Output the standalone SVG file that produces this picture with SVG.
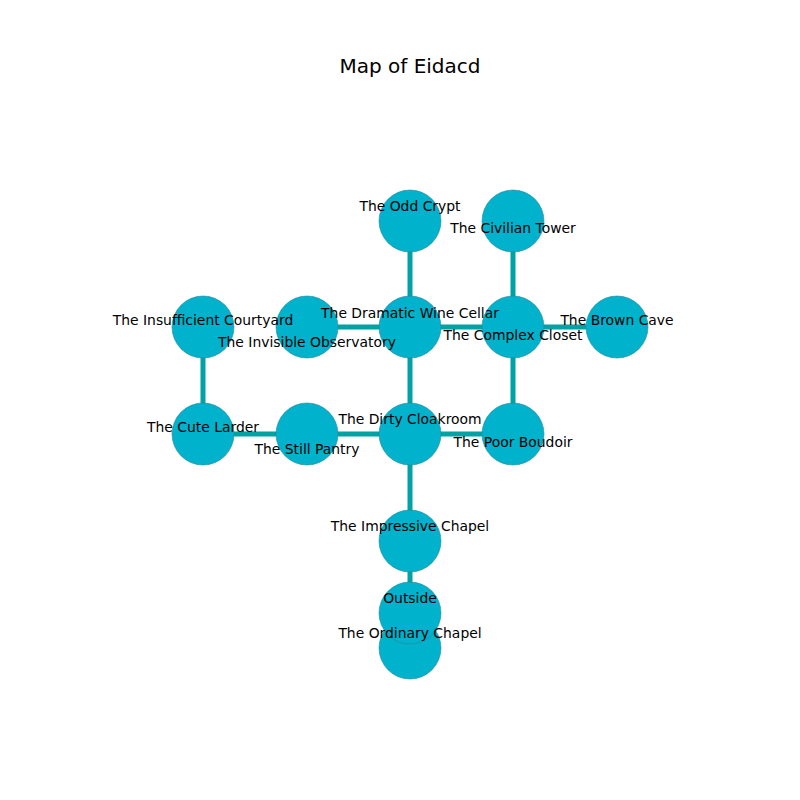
<svg xmlns="http://www.w3.org/2000/svg" width="800" height="800" viewBox="0 0 800 800">
<style>
.n{fill:#00b2cc;stroke:#2a8796;stroke-width:0.6}
.e{stroke:#00a3a3;stroke-width:5;fill:none}
.t{font-family:"DejaVu Sans",sans-serif;font-size:13.9px;fill:#000;text-anchor:middle}
.title{font-family:"DejaVu Sans",sans-serif;font-size:20px;fill:#000;text-anchor:middle}
</style>
<rect width="800" height="800" fill="#fff"/>
<text class="title" x="410" y="73">Map of Eidacd</text>
<g id="connectors">
<line class="e" x1="410" y1="221" x2="410" y2="327"/>
<line class="e" x1="513" y1="221" x2="513" y2="327"/>
<line class="e" x1="203" y1="327" x2="203" y2="434"/>
<line class="e" x1="307" y1="327" x2="410" y2="327"/>
<line class="e" x1="410" y1="327" x2="513" y2="327"/>
<line class="e" x1="513" y1="327" x2="617" y2="327"/>
<line class="e" x1="410" y1="327" x2="410" y2="434"/>
<line class="e" x1="513" y1="327" x2="513" y2="434"/>
<line class="e" x1="203" y1="434" x2="307" y2="434"/>
<line class="e" x1="307" y1="434" x2="410" y2="434"/>
<line class="e" x1="410" y1="434" x2="513" y2="434"/>
<line class="e" x1="410" y1="434" x2="410" y2="541"/>
<line class="e" x1="410" y1="541" x2="410" y2="613"/>
</g>
<g id="odd-crypt"><circle class="n" cx="410" cy="221" r="31"/></g>
<g id="civilian-tower"><circle class="n" cx="513" cy="221" r="31"/></g>
<g id="insufficient-courtyard"><circle class="n" cx="203" cy="327" r="31"/></g>
<g id="invisible-observatory"><circle class="n" cx="307" cy="327" r="31"/></g>
<g id="dramatic-wine-cellar"><circle class="n" cx="410" cy="327" r="31"/></g>
<g id="complex-closet"><circle class="n" cx="513" cy="327" r="31"/></g>
<g id="brown-cave"><circle class="n" cx="617" cy="327" r="31"/></g>
<g id="cute-larder"><circle class="n" cx="203" cy="434" r="31"/></g>
<g id="still-pantry"><circle class="n" cx="307" cy="434" r="31"/></g>
<g id="dirty-cloakroom"><circle class="n" cx="410" cy="434" r="31"/></g>
<g id="poor-boudoir"><circle class="n" cx="513" cy="434" r="31"/></g>
<g id="impressive-chapel"><circle class="n" cx="410" cy="541" r="31"/></g>
<g id="ordinary-chapel"><circle class="n" cx="410" cy="648" r="31"/></g>
<g id="outside"><circle class="n" cx="410" cy="613" r="31"/></g>
<g id="labels">
<text class="t" x="410" y="211">The Odd Crypt</text>
<text class="t" x="513" y="233">The Civilian Tower</text>
<text class="t" x="203" y="325">The Insufficient Courtyard</text>
<text class="t" x="307" y="347">The Invisible Observatory</text>
<text class="t" x="410" y="318">The Dramatic Wine Cellar</text>
<text class="t" x="513" y="340">The Complex Closet</text>
<text class="t" x="617" y="325">The Brown Cave</text>
<text class="t" x="203" y="432">The Cute Larder</text>
<text class="t" x="307" y="454">The Still Pantry</text>
<text class="t" x="410" y="424">The Dirty Cloakroom</text>
<text class="t" x="513" y="447">The Poor Boudoir</text>
<text class="t" x="410" y="531">The Impressive Chapel</text>
<text class="t" x="410" y="603">Outside</text>
<text class="t" x="410" y="638">The Ordinary Chapel</text>
</g>
</svg>
